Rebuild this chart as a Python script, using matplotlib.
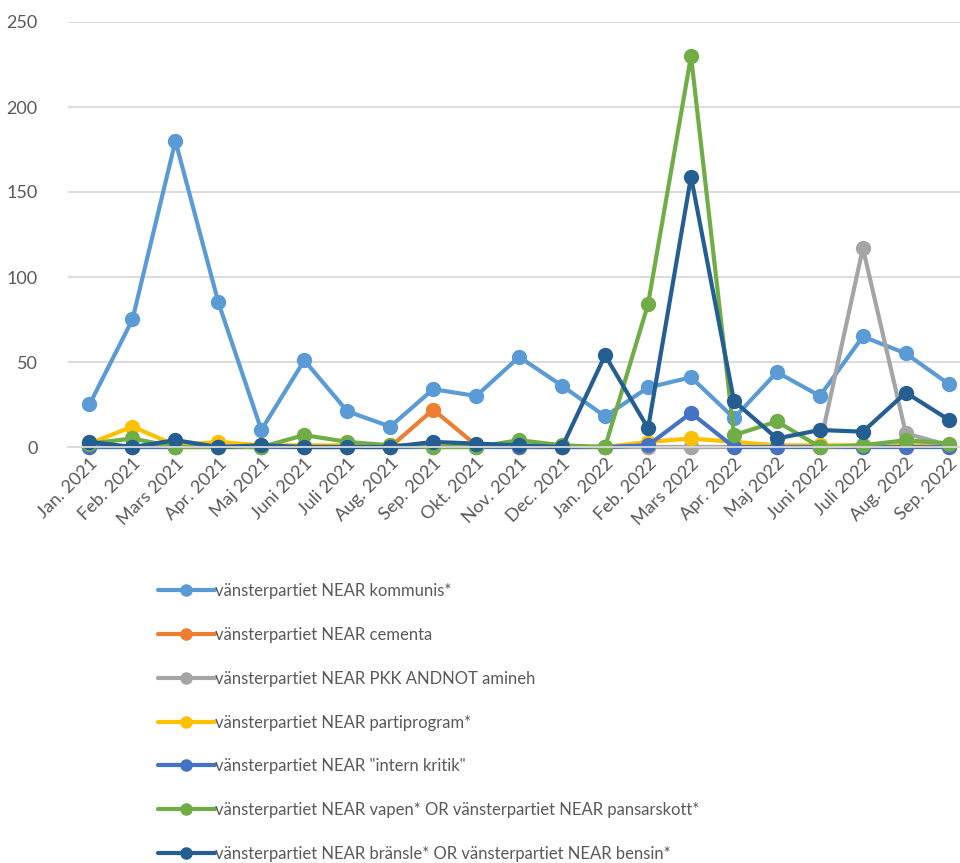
import matplotlib
matplotlib.use("Agg")
import matplotlib.pyplot as plt

plt.rcParams['font.family'] = ['Lato', 'DejaVu Sans']

months = ["Jan. 2021", "Feb. 2021", "Mars 2021", "Apr. 2021", "Maj 2021", "Juni 2021",
          "Juli 2021", "Aug. 2021", "Sep. 2021", "Okt. 2021", "Nov. 2021", "Dec. 2021",
          "Jan. 2022", "Feb. 2022", "Mars 2022", "Apr. 2022", "Maj 2022", "Juni 2022",
          "Juli 2022", "Aug. 2022", "Sep. 2022"]

kommunis     = [25, 75, 180, 85, 10, 51, 21, 12, 34, 30, 53, 36, 18, 35, 41, 17, 44, 30, 65, 55, 37]
cementa      = [0, 0, 0, 0, 0, 0, 0, 0, 22, 1, 0, 0, 0, 0, 0, 0, 0, 0, 0, 0, 0]
pkk          = [0, 0, 0, 0, 0, 0, 0, 0, 0, 0, 0, 0, 0, 0, 0, 0, 0, 1, 117, 8, 1]
partiprogram = [2, 12, 1, 3, 1, 1, 1, 1, 1, 1, 0, 0, 0, 3, 5, 3, 1, 1, 1, 2, 1]
intern       = [0, 0, 0, 0, 0, 0, 0, 0, 0, 0, 0, 0, 0, 1, 20, 0, 0, 0, 0, 0, 0]
vapen        = [2, 5, 0, 0, 0, 7, 3, 1, 0, 0, 4, 1, 0, 84, 230, 7, 15, 0, 1, 4, 2]
bransle      = [3, 0, 4, 0, 1, 0, 0, 0, 3, 2, 1, 0, 54, 11, 159, 27, 5, 10, 9, 32, 16]

series_labels = [
    'vänsterpartiet NEAR kommunis*',
    'vänsterpartiet NEAR cementa',
    'vänsterpartiet NEAR PKK ANDNOT amineh',
    'vänsterpartiet NEAR partiprogram*',
    'vänsterpartiet NEAR "intern kritik"',
    'vänsterpartiet NEAR vapen* OR vänsterpartiet NEAR pansarskott*',
    'vänsterpartiet NEAR bränsle* OR vänsterpartiet NEAR bensin*',
]
series_values = [kommunis, cementa, pkk, partiprogram, intern, vapen, bransle]
colors = ['#5B9BD5', '#ED7D31', '#A5A5A5', '#FFC000', '#4472C4', '#70AD47', '#255E91']

fig = plt.figure(figsize=(9.6, 8.63), dpi=100)
ax = fig.add_axes([68/960, 1-447/863, (960-68)/960, (447-22)/863])

x = list(range(len(months)))
handles = []
for vals, c, lab in zip(series_values, colors, series_labels):
    h, = ax.plot(x, vals, color=c, lw=3, marker='o', ms=10, label=lab,
                 solid_capstyle='round', clip_on=False)
    handles.append(h)

ax.set_ylim(0, 250)
ax.set_xlim(-0.5, 20.26)
ax.set_yticks([0, 50, 100, 150, 200, 250])
ax.yaxis.grid(True, color='#D9D9D9', lw=1.3)
ax.set_axisbelow(True)
for s in ['top', 'right', 'left']:
    ax.spines[s].set_visible(False)
ax.spines['bottom'].set_color('#D9D9D9')
ax.spines['bottom'].set_linewidth(1.3)
ax.tick_params(axis='both', length=0, colors='#595959', labelsize=13)
ax.tick_params(axis='y', pad=22)
ax.set_xticks(x)
ax.set_xticklabels(months, rotation=45, ha='right', rotation_mode='anchor')
ax.tick_params(axis='x', pad=6)

leg = fig.legend(handles=handles, loc='upper left', bbox_to_anchor=(158/960, 1-583/863),
                 frameon=False, fontsize=12, labelspacing=1.67, handlelength=3.4,
                 handletextpad=0.0, borderaxespad=0, borderpad=0, markerscale=0.8)
for t in leg.get_texts():
    t.set_color('#595959')

fig.savefig('out.png', dpi=100)
